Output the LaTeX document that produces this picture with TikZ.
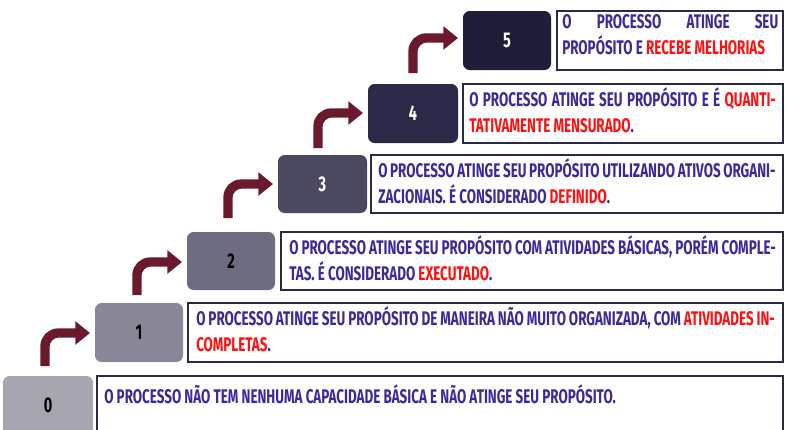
\documentclass[tikz,border=0pt]{standalone}
\usepackage{fontspec}
\setmainfont{Fira Sans}[FakeStretch=0.68]
\usetikzlibrary{arrows.meta}
\definecolor{tb}{HTML}{3A2A9A}
\definecolor{rd}{HTML}{FF1010}
\definecolor{ar}{HTML}{6B1A2E}
\definecolor{c0}{HTML}{A6A5B0}
\definecolor{c1}{HTML}{8A8898}
\definecolor{c2}{HTML}{6E6C80}
\definecolor{c3}{HTML}{4A4960}
\definecolor{c4}{HTML}{2A2A48}
\definecolor{c5}{HTML}{1E1E38}
\tikzset{
 numbox/.style={rounded corners=5pt,inner sep=0pt,font=\bfseries\fontsize{16}{18}\selectfont},
 txtbox/.style={draw=c4,line width=1.3pt,fill=white,inner sep=0pt},
 txt/.style={anchor=north west,inner sep=0pt,align=justify,text=tb,font=\bfseries\fontsize{14.8}{19.5}\selectfont},
 bentarrow/.style={draw=ar,line width=7pt,-{Triangle[length=11pt,width=17pt]},rounded corners=10pt}
}
\newcommand{\R}[1]{\textcolor{rd}{#1}}
\begin{document}
\begin{tikzpicture}[x=0.75pt,y=-0.75pt]
\useasboundingbox (0,0) rectangle (791,429);
\foreach \n/\l/\t/\r/\b/\c/\tc/\cy in {0/3/376/93/440/c0/black/405,1/95/303/183/362/c1/black/332,2/187/232/275/290/c2/black/261,3/278/155/367/213/c3/white/184,4/368/84/458/143/c4/white/113,5/463/11/551/70/c5/white/40}{
  \fill[\c,rounded corners=5pt] (\l,\t) rectangle (\r,\b);
  \node[numbox,text=\tc] (n\n) at ({(\l+\r)/2},\cy) {\n};
}
\draw[txtbox] (97,376) rectangle (783,440);
\draw[txtbox] (188,303) rectangle (783,362);
\draw[txtbox] (281,232) rectangle (783,290);
\draw[txtbox] (371,155) rectangle (783,213);
\draw[txtbox] (463,84) rectangle (783,143);
\draw[txtbox] (557,11) rectangle (783,70);
\node[txt,text width=502pt] (t0) at (104,384) {O PROCESSO NÃO TEM NENHUMA CAPACIDADE BÁSICA E NÃO ATINGE SEU PROPÓSITO.};
\node[txt,text width=434pt] (t1) at (196,306) {O PROCESSO ATINGE SEU PROPÓSITO DE MANEIRA NÃO MUITO ORGANIZADA, COM \R{ATIVIDADES INCOMPLETAS}.};
\node[txt,text width=365pt] (t2) at (289,235) {O PROCESSO ATINGE SEU PROPÓSITO COM ATIVIDADES BÁSICAS, PORÉM COMPLETAS. É CONSIDERADO \R{EXECUTADO}.};
\node[txt,text width=298pt] (t3) at (378,158) {O PROCESSO ATINGE SEU PROPÓSITO UTILIZANDO ATIVOS ORGANIZACIONAIS. É CONSIDERADO \R{DEFINIDO}.};
\node[txt,text width=230pt] (t4) at (469,87) {O PROCESSO ATINGE SEU PROPÓSITO E É \R{QUANTITATIVAMENTE MENSURADO}.};
\node[txt,text width=162pt] (t5) at (562,14) {O PROCESSO ATINGE SEU PROPÓSITO E \R{RECEBE MELHORIAS}};
\foreach \i/\l/\y/\bt in {1/95/333/366,2/187/262/295,3/278/184/218,4/368/113/148,5/463/38/73}{
  \coordinate (a\i) at (\l-50,\bt);
  \coordinate (h\i) at (\l-5,\y);
  \draw[bentarrow] (a\i) |- (h\i);
}
\end{tikzpicture}
\end{document}
